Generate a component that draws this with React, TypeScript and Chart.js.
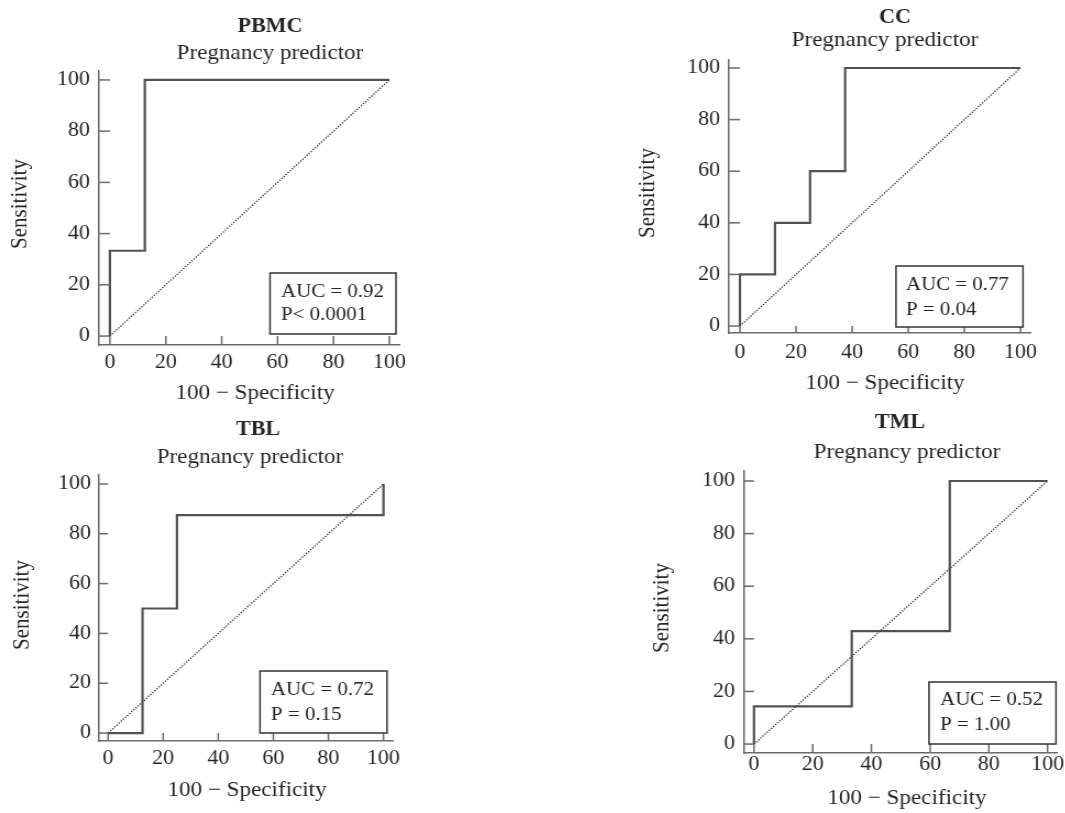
import React, { useEffect, useRef } from "react";
import { Chart, registerables } from "chart.js";

Chart.register(...registerables);

// ---------- data ----------
const tickValues = [0, 20, 40, 60, 80, 100];
const diagX = [0, 100];
const diagY = [0, 100];

const pbmcX = [0, 0, 12.5, 12.5, 100];
const pbmcY = [0, 33.3, 33.3, 100, 100];
const ccX = [0, 0, 12.5, 12.5, 25, 25, 37.5, 37.5, 100];
const ccY = [0, 20, 20, 40, 40, 60, 60, 100, 100];
const tblX = [0, 12.5, 12.5, 25, 25, 100, 100];
const tblY = [0, 0, 50, 50, 87.5, 87.5, 100];
const tmlX = [0, 0, 33.3, 33.3, 66.7, 66.7, 100];
const tmlY = [0, 14.3, 14.3, 42.9, 42.9, 100, 100];

const titles = ["PBMC", "CC", "TBL", "TML"];
const subtitle = "Pregnancy predictor";
const aucLabels = ["AUC = 0.92", "AUC = 0.77", "AUC = 0.72", "AUC = 0.52"];
const pLabels = ["P< 0.0001", "P = 0.04", "P = 0.15", "P = 1.00"];
const xTitle = "100 \u2212 Specificity";
const yTitle = "Sensitivity";

const rocX = [pbmcX, ccX, tblX, tmlX];
const rocY = [pbmcY, ccY, tblY, tmlY];

// ---------- layout ----------
const FONT = "'Liberation Serif', 'Times New Roman', serif";
const TEXT = "#262626";
const LINE = "#525252";
const AXIS = "#6a6a6a";
const SX = 1.1; // the reference figure is slightly stretched horizontally

type Panel = {
  left: number; top: number; w: number; h: number;
  pad: { left: number; top: number; right: number; bottom: number };
  xr: [number, number]; yr: [number, number];
  xPad: number; yPad: number;
  titleXY: [number, number]; subXY: [number, number];
  yTitleXY: [number, number]; xTitleXY: [number, number];
  box: [number, number, number, number];
  textX: number; lineY: [number, number];
};

const panels: Panel[] = [
  {
    left: 0, top: 0, w: 532, h: 405,
    pad: { left: 99, top: 71, right: 133, bottom: 60 },
    xr: [-3.9, 103.6], yr: [-3.5, 103.5], xPad: 6, yPad: 9,
    titleXY: [270, 27], subXY: [270, 53], yTitleXY: [20, 204], xTitleXY: [255, 393],
    box: [270, 273, 126, 61], textX: 281, lineY: [292, 315],
  },
  {
    left: 532, top: 0, w: 533, h: 405,
    pad: { left: 197, top: 60, right: 35, bottom: 72 },
    xr: [-3.9, 103.6], yr: [-2.7, 103.1], xPad: 8, yPad: 9,
    titleXY: [363, 18], subXY: [353, 40], yTitleXY: [116, 193], xTitleXY: [353, 383],
    box: [364, 266, 127, 61], textX: 374, lineY: [285, 310],
  },
  {
    left: 0, top: 405, w: 532, h: 408,
    pad: { left: 99, top: 70, right: 139, bottom: 72 },
    xr: [-3.3, 103.6], yr: [-3.2, 103.6], xPad: 6, yPad: 8,
    titleXY: [258, 25], subXY: [250, 52], yTitleXY: [22, 200], xTitleXY: [247, 385],
    box: [260, 266, 127, 62], textX: 271, lineY: [285, 310],
  },
  {
    left: 532, top: 405, w: 533, h: 408,
    pad: { left: 212, top: 66, right: 8, bottom: 60 },
    xr: [-3.4, 103.4], yr: [-3.4, 103.8], xPad: 0, yPad: 9,
    titleXY: [368, 18], subXY: [375, 47], yTitleXY: [130, 203], xTitleXY: [375, 393],
    box: [397, 277, 127, 62], textX: 408, lineY: [295, 320],
  },
];

function RocPanel({ index }: { index: number }) {
  const ref = useRef<HTMLCanvasElement | null>(null);
  const p = panels[index];
  const cw = Math.round(p.w / SX);

  useEffect(() => {
    if (!ref.current) return;
    const decor = {
      id: "decor" + index,
      afterDraw(chart: any) {
        const ctx = chart.ctx;
        const xs = chart.scales.x;
        const ys = chart.scales.y;
        const ca = chart.chartArea;
        ctx.save();
        // inward tick marks
        ctx.strokeStyle = AXIS;
        ctx.lineWidth = 1.5;
        const y0 = ys.getPixelForValue(0);
        const x0 = xs.getPixelForValue(0);
        tickValues.forEach((v) => {
          const px = xs.getPixelForValue(v);
          ctx.beginPath();
          ctx.moveTo(px, ca.bottom);
          ctx.lineTo(px, y0);
          ctx.stroke();
          const py = ys.getPixelForValue(v);
          ctx.beginPath();
          ctx.moveTo(ca.left, py);
          ctx.lineTo(x0, py);
          ctx.stroke();
        });
        // titles
        ctx.fillStyle = TEXT;
        ctx.textAlign = "center";
        ctx.textBaseline = "middle";
        ctx.font = `bold 20px ${FONT}`;
        ctx.fillText(titles[index], p.titleXY[0] / SX, p.titleXY[1]);
        ctx.font = `21px ${FONT}`;
        ctx.fillText(subtitle, p.subXY[0] / SX, p.subXY[1]);
        ctx.fillText(xTitle, p.xTitleXY[0] / SX, p.xTitleXY[1]);
        ctx.save();
        ctx.translate(p.yTitleXY[0] / SX, p.yTitleXY[1]);
        ctx.rotate(-Math.PI / 2);
        ctx.fillText(yTitle, 0, 0);
        ctx.restore();
        // AUC box
        const bx = p.box[0] / SX;
        const bw = p.box[2] / SX;
        ctx.fillStyle = "#ffffff";
        ctx.fillRect(bx, p.box[1], bw, p.box[3]);
        ctx.strokeStyle = "#333333";
        ctx.lineWidth = 1.5;
        ctx.strokeRect(bx, p.box[1], bw, p.box[3]);
        ctx.fillStyle = TEXT;
        ctx.textAlign = "left";
        ctx.font = `19px ${FONT}`;
        ctx.fillText(aucLabels[index], p.textX / SX, p.lineY[0]);
        ctx.fillText(pLabels[index], p.textX / SX, p.lineY[1]);
        ctx.restore();
      },
    };

    const chart = new Chart(ref.current, {
      type: "line",
      data: {
        datasets: [
          {
            label: "Diagonal",
            data: diagX.map((x, i) => ({ x, y: diagY[i] })),
            borderColor: "#484848",
            borderWidth: 1.4,
            borderDash: [1.4, 1.3],
            pointRadius: 0,
            tension: 0,
          },
          {
            label: titles[index],
            data: rocX[index].map((x, i) => ({ x, y: rocY[index][i] })),
            borderColor: LINE,
            borderWidth: 2.2,
            pointRadius: 0,
            tension: 0,
          },
        ],
      },
      options: {
        animation: false,
        responsive: false,
        devicePixelRatio: 1,
        layout: { padding: { left: 0, top: p.pad.top, right: p.pad.right / SX, bottom: 0 } },
        plugins: { legend: { display: false }, tooltip: { enabled: false }, title: { display: false } },
        scales: {
          x: {
            type: "linear",
            min: p.xr[0],
            max: p.xr[1],
            afterBuildTicks: (s: any) => { s.ticks = tickValues.map((v) => ({ value: v })); },
            afterFit: (s: any) => { s.height = p.pad.bottom; },
            grid: { display: false, drawTicks: false },
            border: { display: true, color: AXIS, width: 1.5 },
            ticks: { padding: p.xPad, color: TEXT, font: { family: FONT, size: 20 }, maxRotation: 0, autoSkip: false },
          },
          y: {
            type: "linear",
            min: p.yr[0],
            max: p.yr[1],
            afterBuildTicks: (s: any) => { s.ticks = tickValues.map((v) => ({ value: v })); },
            afterFit: (s: any) => { s.width = p.pad.left / SX; },
            grid: { display: false, drawTicks: false },
            border: { display: true, color: AXIS, width: 1.5 },
            ticks: { padding: p.yPad / SX, color: TEXT, font: { family: FONT, size: 20 }, autoSkip: false },
          },
        },
      },
      plugins: [decor],
    });
    return () => chart.destroy();
  }, [index]);

  return (
    <canvas
      ref={ref}
      width={cw}
      height={p.h}
      style={{
        position: "absolute",
        left: p.left,
        top: p.top,
        width: cw,
        height: p.h,
        transform: `scaleX(${SX})`,
        transformOrigin: "0 0",
      }}
    />
  );
}

export default function App() {
  return (
    <div style={{ position: "absolute", left: 0, top: 0, width: 1065, height: 813, background: "#ffffff", overflow: "hidden" }}>
      {panels.map((_, i) => (
        <RocPanel key={i} index={i} />
      ))}
    </div>
  );
}
